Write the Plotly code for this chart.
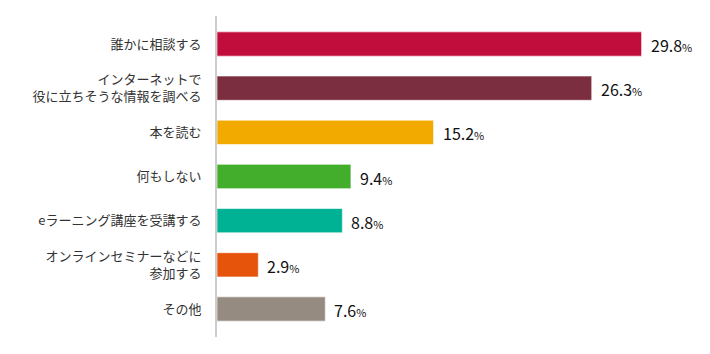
import plotly.graph_objects as go

categories = [
    "誰かに相談する",
    "インターネットで<br>役に立ちそうな情報を調べる",
    "本を読む",
    "何もしない",
    "eラーニング講座を受講する",
    "オンラインセミナーなどに<br>参加する",
    "その他",
]
values = [29.8, 26.3, 15.2, 9.4, 8.8, 2.9, 7.6]
colors = ["#C00D3B", "#7A2E40", "#F2A900", "#43AE2B", "#00B294", "#E5540A", "#958B80"]

FONT = "Noto Sans CJK JP, Noto Sans, sans-serif"

fig = go.Figure()
fig.add_trace(go.Bar(
    x=values,
    y=categories,
    orientation="h",
    marker=dict(color=colors, line=dict(color="rgba(255,255,255,0.6)", width=1)),
    hoverinfo="skip",
))

for c, v in zip(categories, values):
    fig.add_annotation(
        x=v, y=c, xref="x", yref="y",
        text=f"{v:.1f}<span style='font-size:11px'>%</span>",
        showarrow=False, xanchor="left", xshift=7, yshift=-1,
        font=dict(family=FONT, size=16, color="#111111"),
    )

fig.update_layout(
    width=710, height=354,
    margin=dict(l=217, r=0, t=16, b=17),
    paper_bgcolor="white", plot_bgcolor="white",
    bargap=0.45,
    showlegend=False,
    font=dict(family=FONT, size=13, color="#333333"),
)
fig.update_xaxes(range=[0, 34.6], visible=False, showgrid=False, zeroline=False)
fig.update_yaxes(
    autorange=False, range=[6.634, -0.634],
    categoryorder="array", categoryarray=categories,
    showline=True, linecolor="#CCCCCC", linewidth=2,
    showgrid=False, zeroline=False, ticks="",
    ticklabelstandoff=11,
    tickfont=dict(family=FONT, size=13, color="#333333"),
)

fig.write_html("out.html")
